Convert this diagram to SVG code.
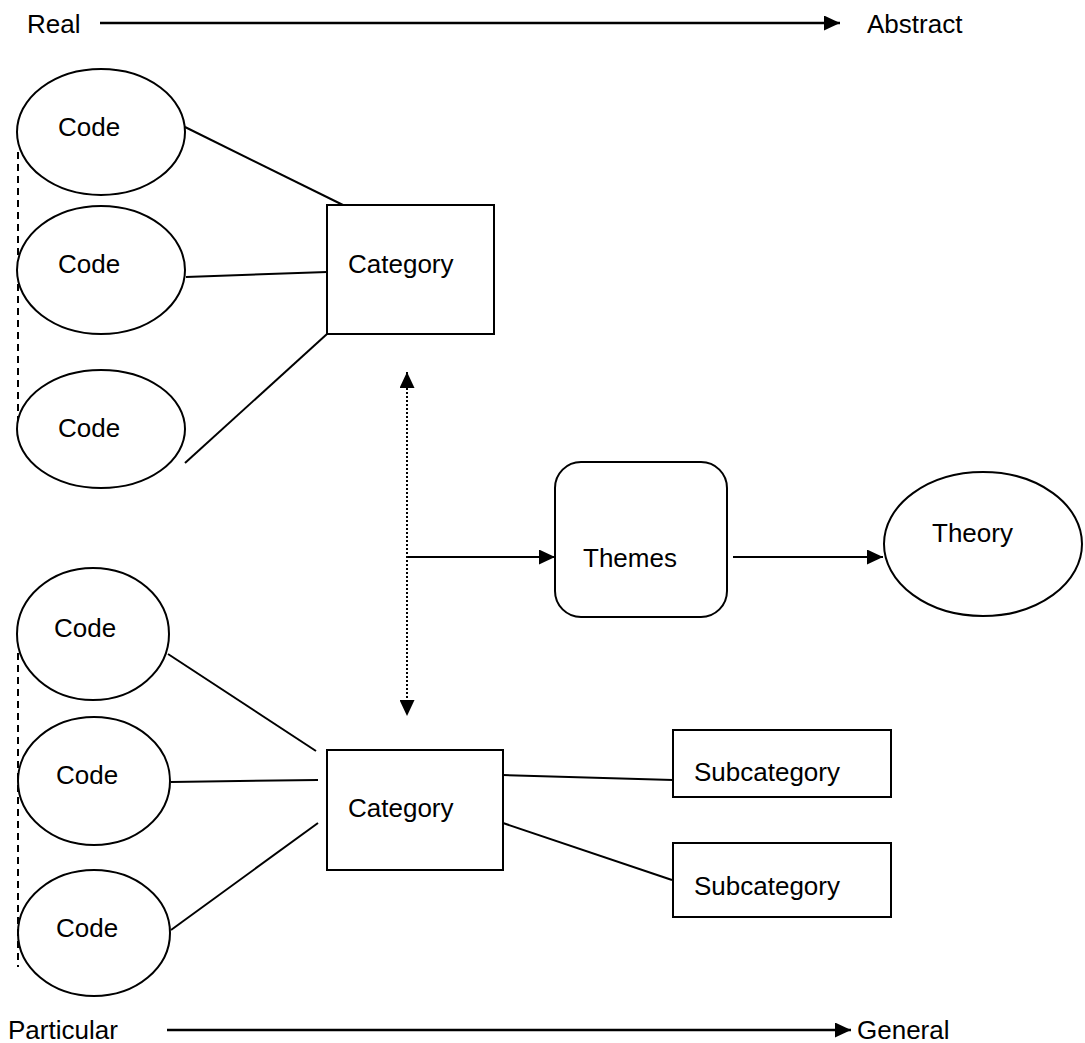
<svg xmlns="http://www.w3.org/2000/svg" width="1085" height="1043" viewBox="0 0 1085 1043">
  <style>
    .shape { fill: #ffffff; stroke: #000000; stroke-width: 2; }
    .edge { fill: none; stroke: #000000; stroke-width: 2; }
    .axis { stroke-width: 2.5; }
    .dotted { stroke-dasharray: 2 2; }
    .dashed { fill: none; stroke: #000000; stroke-width: 2; stroke-dasharray: 7 5; }
    text { font-family: "Liberation Sans", Arial, sans-serif; font-size: 26px; fill: #000000; }
  </style>
  <defs>
    <marker id="arrow" markerUnits="userSpaceOnUse" markerWidth="16" markerHeight="15" refX="16" refY="7.5" orient="auto-start-reverse">
      <path d="M0,0 L16,7.5 L0,15 z" fill="#000000"/>
    </marker>
  </defs>

  <rect width="1085" height="1043" fill="#ffffff"/>

  <!-- axis labels -->
  <g id="axis-top">
    <text x="27" y="33">Real</text>
    <line class="edge axis" x1="100" y1="23" x2="840" y2="23" marker-end="url(#arrow)"/>
    <text x="867" y="33">Abstract</text>
  </g>
  <g id="axis-bottom">
    <text x="8" y="1039">Particular</text>
    <line class="edge axis" x1="167" y1="1030" x2="851" y2="1030" marker-end="url(#arrow)"/>
    <text x="857" y="1039">General</text>
  </g>

  <!-- grouping guides on the left -->
  <line class="dashed" x1="18" y1="152" x2="18" y2="430"/>
  <line class="dashed" x1="18" y1="653" x2="18" y2="967"/>

  <!-- connectors -->
  <g id="connectors">
    <line class="edge" x1="185" y1="127" x2="343" y2="205"/>
    <line class="edge" x1="186" y1="277" x2="327" y2="272"/>
    <line class="edge" x1="185" y1="463" x2="327" y2="334"/>

    <line class="edge" x1="168" y1="654" x2="316" y2="751"/>
    <line class="edge" x1="171" y1="782" x2="318" y2="780"/>
    <line class="edge" x1="171" y1="930" x2="318" y2="823"/>

    <line class="edge" x1="503" y1="775" x2="673" y2="780"/>
    <line class="edge" x1="503" y1="823" x2="672" y2="880"/>

    <line class="edge dotted" x1="407" y1="372" x2="407" y2="716" marker-start="url(#arrow)" marker-end="url(#arrow)"/>
    <line class="edge" x1="407" y1="557" x2="555" y2="557" marker-end="url(#arrow)"/>
    <line class="edge" x1="733" y1="557" x2="883" y2="557" marker-end="url(#arrow)"/>
  </g>

  <!-- upper codes and category -->
  <g id="code-1">
    <ellipse class="shape" cx="101" cy="132" rx="84" ry="63"/>
    <text x="58" y="136">Code</text>
  </g>
  <g id="code-2">
    <ellipse class="shape" cx="101" cy="270" rx="84" ry="64"/>
    <text x="58" y="273">Code</text>
  </g>
  <g id="code-3">
    <ellipse class="shape" cx="101" cy="429" rx="84" ry="59"/>
    <text x="58" y="437">Code</text>
  </g>
  <g id="category-1">
    <rect class="shape" x="327" y="205" width="167" height="129"/>
    <text x="348" y="273">Category</text>
  </g>

  <!-- themes and theory -->
  <g id="themes">
    <rect class="shape" x="555" y="462" width="172" height="155" rx="26" ry="26"/>
    <text x="583" y="567">Themes</text>
  </g>
  <g id="theory">
    <ellipse class="shape" cx="983" cy="544" rx="99" ry="72"/>
    <text x="932" y="542">Theory</text>
  </g>

  <!-- lower codes, category and subcategories -->
  <g id="code-4">
    <ellipse class="shape" cx="93" cy="634" rx="76" ry="66"/>
    <text x="54" y="637">Code</text>
  </g>
  <g id="code-5">
    <ellipse class="shape" cx="94" cy="781" rx="76" ry="64"/>
    <text x="56" y="784">Code</text>
  </g>
  <g id="code-6">
    <ellipse class="shape" cx="94" cy="933" rx="76" ry="63"/>
    <text x="56" y="937">Code</text>
  </g>
  <g id="category-2">
    <rect class="shape" x="327" y="750" width="176" height="120"/>
    <text x="348" y="817">Category</text>
  </g>
  <g id="subcategory-1">
    <rect class="shape" x="673" y="730" width="218" height="67"/>
    <text x="694" y="781">Subcategory</text>
  </g>
  <g id="subcategory-2">
    <rect class="shape" x="673" y="843" width="218" height="74"/>
    <text x="694" y="895">Subcategory</text>
  </g>
</svg>
